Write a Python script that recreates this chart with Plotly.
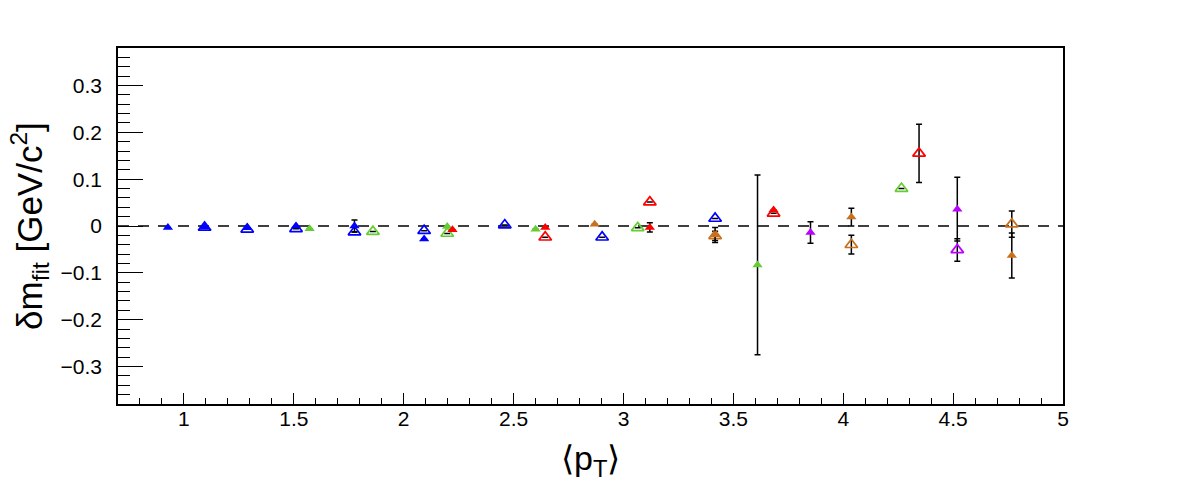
import plotly.graph_objects as go

# ---- data ----
blue_fill_x = [0.927, 1.094, 1.288, 1.510, 1.776, 2.093]
blue_fill_y = [-0.003, -0.002, -0.004, 0.000, 0.000, -0.028]
blue_fill_e = [0.002, 0.003, 0.003, 0.003, 0.013, 0.005]

blue_open_x = [1.094, 1.288, 1.510, 1.776, 2.093, 2.460, 2.903, 3.417]
blue_open_y = [-0.003, -0.007, -0.006, -0.013, -0.010, 0.002, -0.024, 0.016]
blue_open_e = [0.002, 0.002, 0.002, 0.003, 0.003, 0.002, 0.002, 0.003]

green_fill_x = [1.572, 2.198, 2.600, 3.610]
green_fill_y = [-0.006, -0.001, -0.007, -0.083]
green_fill_e = [0.002, 0.004, 0.003, 0.192]

green_open_x = [1.860, 2.198, 3.065, 4.265]
green_open_y = [-0.012, -0.016, -0.004, 0.080]
green_open_e = [0.003, 0.003, 0.003, 0.006]

red_fill_x = [2.222, 2.644, 3.120, 3.683]
red_fill_y = [-0.008, -0.003, -0.003, 0.034]
red_fill_e = [0.003, 0.003, 0.010, 0.005]

red_open_x = [2.644, 3.120, 3.683, 4.345]
red_open_y = [-0.024, 0.051, 0.027, 0.155]
red_open_e = [0.003, 0.004, 0.004, 0.062]

brown_fill_x = [2.869, 3.417, 4.037, 4.767]
brown_fill_y = [0.004, -0.019, 0.019, -0.063]
brown_fill_e = [0.002, 0.016, 0.019, 0.048]

brown_open_x = [3.417, 4.037, 4.767]
brown_open_y = [-0.021, -0.040, 0.004]
brown_open_e = [0.010, 0.020, 0.028]

purple_fill_x = [3.851, 4.519]
purple_fill_y = [-0.014, 0.036]
purple_fill_e = [0.023, 0.068]

purple_open_x = [4.519]
purple_open_y = [-0.051]
purple_open_e = [0.024]

x_tick_vals = [1, 1.5, 2, 2.5, 3, 3.5, 4, 4.5, 5]
x_tick_text = ["1", "1.5", "2", "2.5", "3", "3.5", "4", "4.5", "5"]
y_tick_vals = [-0.3, -0.2, -0.1, 0, 0.1, 0.2, 0.3]
y_tick_text = ["\u22120.3", "\u22120.2", "\u22120.1", "0", "0.1", "0.2", "0.3"]

BLUE = "#0000ff"
GREEN = "#66cc33"
RED = "#ff0000"
BROWN = "#c8701e"
PURPLE = "#bb00ff"

FONT = "Liberation Sans, Arial, Helvetica, sans-serif"
HIDDEN_ERR = 0.009  # errors smaller than the marker are not drawn (as in ROOT)

fig = go.Figure()


def add(xs, ys, es, color, filled):
    shown = [e if e >= HIDDEN_ERR else None for e in es]
    fig.add_trace(go.Scatter(
        x=xs, y=ys, mode="markers",
        marker=dict(
            symbol="triangle-up" if filled else "triangle-up-open",
            size=9 if filled else 11,
            color=color,
            line=dict(color=color, width=1.7 if not filled else 0),
        ),
        error_y=dict(type="data", array=shown, visible=True,
                     color="black", thickness=1.5, width=3),
        showlegend=False, hoverinfo="x+y",
    ))


add(blue_open_x, blue_open_y, blue_open_e, BLUE, False)
add(blue_fill_x, blue_fill_y, blue_fill_e, BLUE, True)
add(green_open_x, green_open_y, green_open_e, GREEN, False)
add(green_fill_x, green_fill_y, green_fill_e, GREEN, True)
add(red_open_x, red_open_y, red_open_e, RED, False)
add(red_fill_x, red_fill_y, red_fill_e, RED, True)
add(brown_open_x, brown_open_y, brown_open_e, BROWN, False)
add(brown_fill_x, brown_fill_y, brown_fill_e, BROWN, True)
add(purple_open_x, purple_open_y, purple_open_e, PURPLE, False)
add(purple_fill_x, purple_fill_y, purple_fill_e, PURPLE, True)

# dashed zero line
fig.add_shape(type="line", xref="x", yref="y", x0=0.7, x1=5, y0=0, y1=0,
              line=dict(color="black", width=1.6, dash="11px,9px"), layer="below")

fig.update_layout(
    width=1173, height=485,
    margin=dict(l=110, r=118, t=40, b=89),
    paper_bgcolor="white", plot_bgcolor="white",
    font=dict(family=FONT, color="black", size=21),
    xaxis=dict(
        range=[0.7, 5], showgrid=False, zeroline=False,
        showline=True, linecolor="black", linewidth=1.6, mirror=True,
        tickmode="array", tickvals=x_tick_vals, ticktext=x_tick_text,
        ticks="inside", ticklen=11, tickwidth=1.2, tickcolor="black",
        minor=dict(ticks="inside", ticklen=6, tickwidth=1.2, tickcolor="black",
                   tickmode="linear", tick0=0.7, dtick=0.1, showgrid=False),
        tickfont=dict(family=FONT, size=21, color="black"),
        ticklabelstandoff=-5,
    ),
    yaxis=dict(
        range=[-0.38, 0.38], showgrid=False, zeroline=False,
        showline=True, linecolor="black", linewidth=1.6, mirror=True,
        tickmode="array", tickvals=y_tick_vals, ticktext=y_tick_text,
        ticks="inside", ticklen=25, tickwidth=1.2, tickcolor="black",
        minor=dict(ticks="inside", ticklen=12, tickwidth=1.2, tickcolor="black",
                   tickmode="linear", tick0=0, dtick=0.02, showgrid=False),
        tickfont=dict(family=FONT, size=21, color="black"),
        ticklabelstandoff=10,
    ),
    annotations=[
        dict(text="\u03b4m<sub>fit</sub> [GeV/c<sup>2</sup>]", textangle=-90,
             xref="paper", yref="paper", x=0, y=0.5,
             xanchor="center", yanchor="middle", showarrow=False,
             xshift=-89, font=dict(family=FONT, size=35, color="black")),
        dict(text="\u27e8p<sub>T</sub>\u27e9",
             xref="paper", yref="paper", x=0.5, y=0, yshift=-56,
             xanchor="center", yanchor="middle", showarrow=False,
             font=dict(family=FONT, size=34, color="black")),
    ],
)

fig.write_html("out.html")
